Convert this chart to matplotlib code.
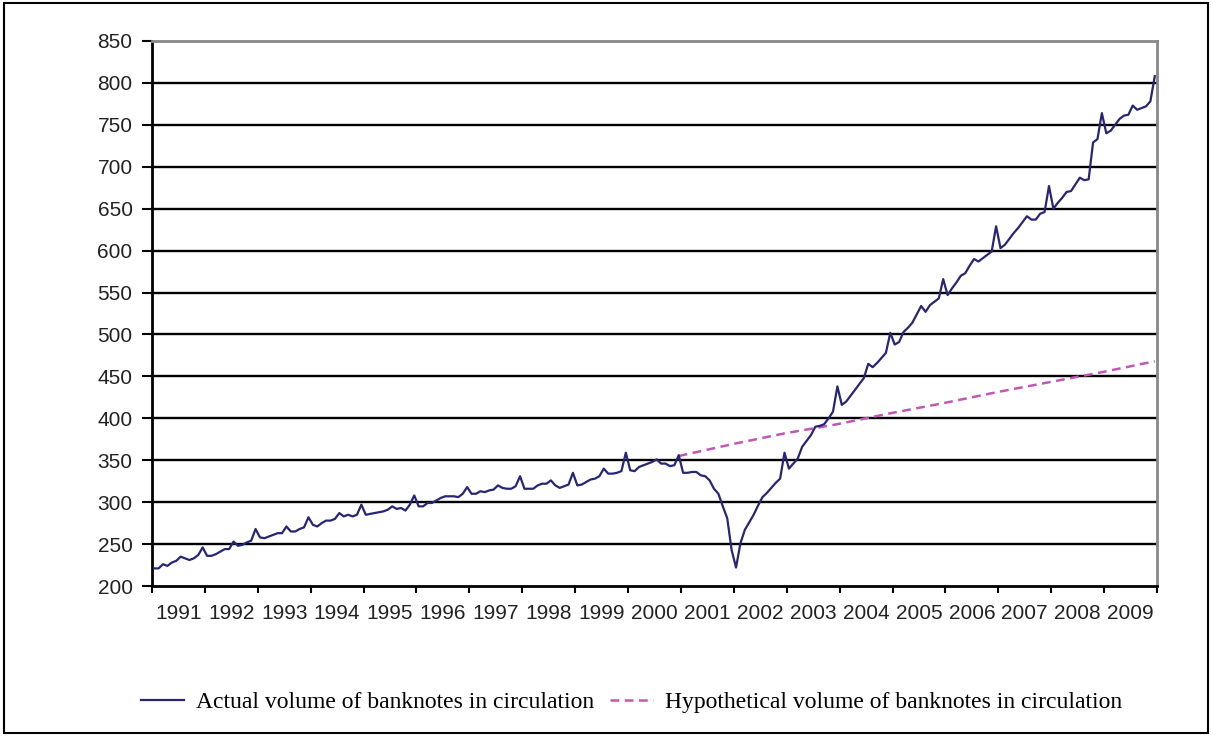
#Actual vs hypothetical volume of banknotes in circulation, monthly 1991-2009
import numpy as np
import matplotlib
matplotlib.use("Agg")
import matplotlib.pyplot as plt
from matplotlib.patches import Rectangle

years = list(range(1991, 2010))

# monthly values, one row per year (Jan..Dec)
actual = [
	221, 221, 226, 224, 228, 230, 235, 233, 231, 233, 237, 246,   # 1991
	236, 236, 238, 241, 244, 244, 253, 248, 249, 252, 254, 268,   # 1992
	258, 257, 259, 261, 263, 263, 271, 265, 265, 268, 270, 282,   # 1993
	273, 271, 275, 278, 278, 280, 287, 283, 285, 283, 285, 297,   # 1994
	285, 286, 287, 288, 289, 291, 295, 292, 293, 290, 297, 308,   # 1995
	295, 295, 299, 299, 302, 305, 307, 307, 307, 306, 310, 318,   # 1996
	310, 310, 313, 312, 314, 315, 320, 317, 316, 316, 319, 331,   # 1997
	316, 316, 316, 320, 322, 322, 326, 320, 317, 319, 321, 335,   # 1998
	320, 321, 324, 327, 328, 331, 340, 334, 334, 335, 337, 359,   # 1999
	338, 337, 342, 344, 346, 348, 351, 346, 346, 343, 344, 356,   # 2000
	335, 335, 336, 336, 332, 331, 326, 316, 310, 295, 281, 243,   # 2001
	222, 251, 267, 276, 285, 296, 306, 311, 317, 323, 328, 359,   # 2002
	340, 346, 352, 366, 373, 380, 390, 391, 393, 400, 408, 438,   # 2003
	416, 420, 427, 434, 441, 448, 465, 461, 466, 472, 478, 502,   # 2004
	488, 491, 503, 508, 514, 524, 534, 527, 535, 539, 543, 566,   # 2005
	547, 555, 562, 570, 573, 582, 590, 587, 591, 595, 599, 629,   # 2006
	603, 607, 614, 621, 627, 634, 641, 637, 637, 644, 646, 677,   # 2007
	650, 657, 663, 670, 671, 679, 687, 684, 685, 729, 733, 764,   # 2008
	740, 743, 750, 757, 761, 762, 773, 768, 770, 772, 778, 808,   # 2009
]

# hypothetical path, December values from 2000 on
hyp_month = [119, 131, 143, 155, 167, 179, 191, 203, 215, 227]
hyp = [355, 369, 382, 393, 406, 418, 431, 443, 455, 468]

x = 1991 + (np.arange(len(actual)) + 0.5) / 12.0
xh = 1991 + (np.array(hyp_month) + 0.5) / 12.0

fig = plt.figure(figsize=(12.12, 7.36), dpi=100)
ax = fig.add_axes([0.1254, 0.2038, 0.8292, 0.7405])

for v in range(250, 850, 50):
	ax.axhline(v, color="black", linewidth=1.7, zorder=1)

ax.plot(x, actual, color="#262675", linewidth=1.6, zorder=3,
	label="Actual volume of banknotes in circulation")
ax.plot(xh, hyp, color="#C256B4", linewidth=1.8, linestyle=(0, (3.5, 2.2)), zorder=2,
	label="Hypothetical volume of banknotes in circulation")

ax.set_xlim(1991, 2010)
ax.set_ylim(200, 850)
ax.set_yticks(np.arange(200, 851, 50))

ax.set_xticks(np.arange(1991, 2011))
ax.set_xticklabels([])
ax.set_xticks(np.array(years) + 0.5, minor=True)
ax.set_xticklabels([str(y) for y in years], minor=True)
ax.tick_params(axis="x", which="major", direction="out", length=5, width=1.5, color="black")
ax.tick_params(axis="x", which="minor", length=0, pad=13, labelsize=15)
ax.tick_params(axis="y", direction="out", length=7, width=1.5, pad=7, labelsize=15)

for lab in ax.get_xticklabels(minor=True) + ax.get_yticklabels():
	lab.set_fontfamily("Liberation Sans")
	lab.set_color("#222222")

ax.spines["left"].set_linewidth(2)
ax.spines["bottom"].set_linewidth(2)
ax.spines["top"].set_color("#888888")
ax.spines["top"].set_linewidth(2)
ax.spines["right"].set_color("#888888")
ax.spines["right"].set_linewidth(2)

fig.legend(loc="center", bbox_to_anchor=(0.521, 0.046), ncol=2, frameon=False,
	prop={"family": "Liberation Serif", "size": 17}, handlelength=1.85,
	handletextpad=0.5, columnspacing=0.65)

fig.patches.append(Rectangle((0.003, 0.004), 0.994, 0.992, transform=fig.transFigure,
	fill=False, edgecolor="black", linewidth=1.5))

plt.savefig("out.png", dpi=100)
